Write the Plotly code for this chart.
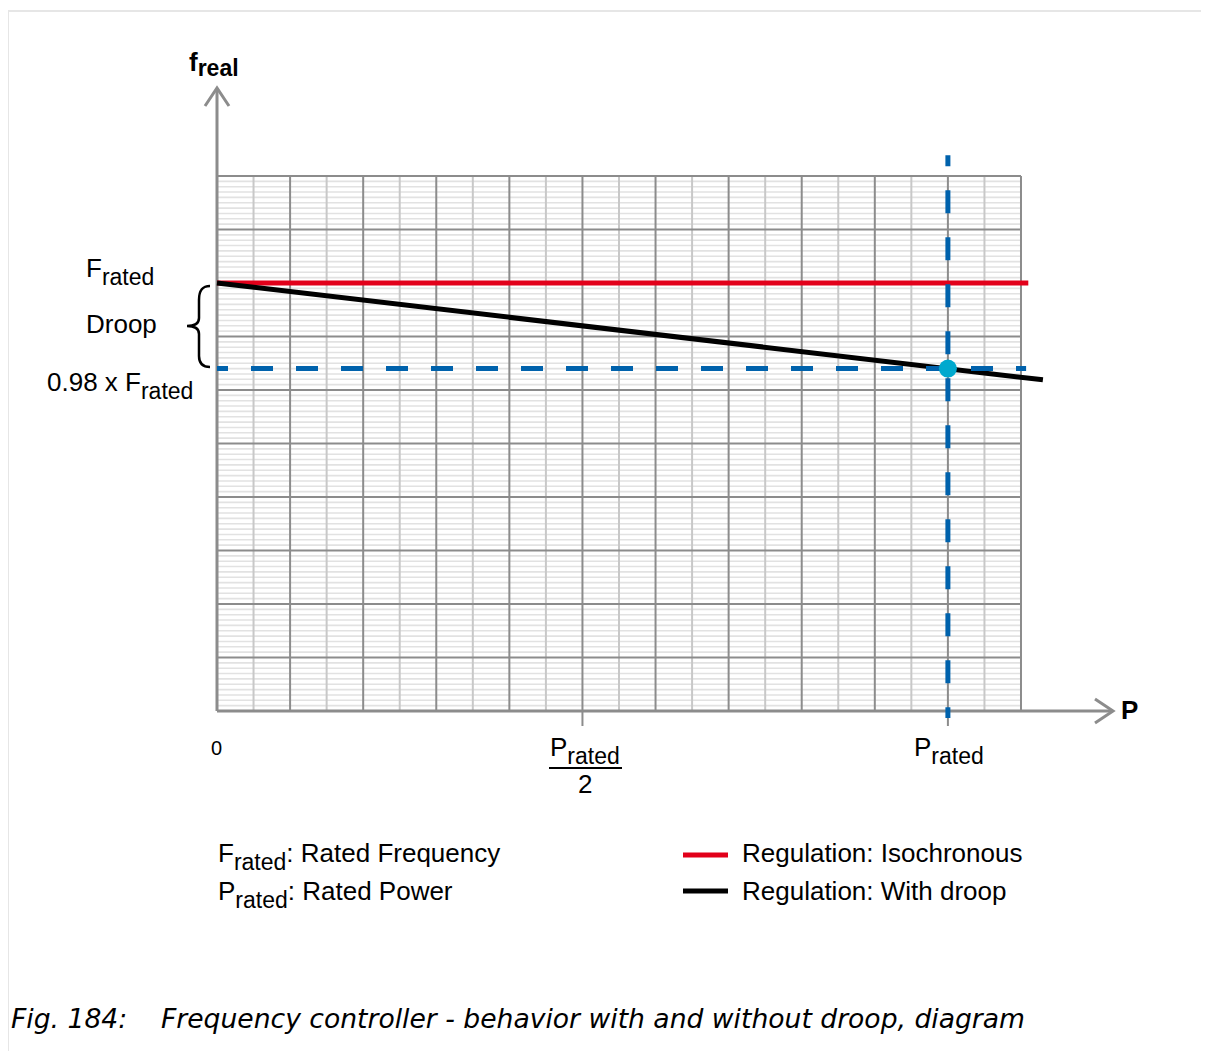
import plotly.graph_objects as go

# chart values, in grid units: P axis in tenths of P_rated, f axis with F_rated = 8
p_major = list(range(0, 12))
p_minor = [i + 0.5 for i in range(0, 11)]
f_major = list(range(0, 11))
f_minor = [i / 10 for i in range(0, 101) if i % 10 != 0]

iso_p = [0, 11.1]
iso_f = [8, 8]
droop_p = [0, 11.3]
droop_f = [8, 6.19]
op_p = [10]
op_f = [6.4]
dash_h_p = [0, 11.07]
dash_v_f = [10.39, -0.13]

SUB = "<sub><span style='font-size:23px;baseline-shift:-3px'>rated</span></sub>"
x_tick_vals = [0, 5, 10]
x_tick_text = ["0", "P" + SUB, "P" + SUB]

# page / pixel mapping (body keeps its default 8px margin)
W, H, OFF = 1193, 1043, 8
X0, XS = 217, 73.09
Y0, YS = 711, 53.5


def dx(X):
    return (X - X0) / XS


def dy(Y):
    return (Y0 - Y) / YS


def segs(pos, a, b, vertical):
    xs, ys = [], []
    for v in pos:
        if vertical:
            xs += [v, v, None]
            ys += [a, b, None]
        else:
            xs += [a, b, None]
            ys += [v, v, None]
    return xs, ys


GRID_DARK = "#8c8c8c"
BLUE = "#0062ac"
FONT = "Liberation Sans, Arial, sans-serif"

# dash phase as in the original drawing
dash_h = "11px,23px," + ",".join(["22px,23px"] * 18)
dash_v = "11px,24px," + ",".join(["23px,24px"] * 12)

fig = go.Figure()

# grid
x, y = segs(f_minor, 0, 11, False)
fig.add_trace(go.Scatter(x=x, y=y, mode="lines", line=dict(color="#e2e2e2", width=1.6), hoverinfo="skip"))
x, y = segs(p_minor, 0, 10, True)
fig.add_trace(go.Scatter(x=x, y=y, mode="lines", line=dict(color="#c8c8c8", width=2), hoverinfo="skip"))
x1, y1 = segs(f_major[1:], 0, 11, False)
x2, y2 = segs(p_major[1:], 0, 10, True)
fig.add_trace(go.Scatter(x=x1 + x2, y=y1 + y2, mode="lines", line=dict(color=GRID_DARK, width=2), hoverinfo="skip"))

# axes with open arrow heads
y_top = dy(88)
x_end = dx(1113)
fig.add_trace(go.Scatter(
    x=[0, 0, None, dx(205), 0, dx(229), None, 0, x_end, None, dx(1095), x_end, dx(1095)],
    y=[0, y_top, None, dy(106), y_top, dy(106), None, 0, 0, None, dy(699), 0, dy(723)],
    mode="lines", line=dict(color=GRID_DARK, width=3), hoverinfo="skip"))
x, y = segs(x_tick_vals[1:], 0, dy(726), True)
fig.add_trace(go.Scatter(x=x, y=y, mode="lines", line=dict(color=GRID_DARK, width=2), hoverinfo="skip"))

# regulation lines
fig.add_trace(go.Scatter(x=iso_p, y=iso_f, mode="lines", line=dict(color="#e2001a", width=5),
                         name="Regulation: Isochronous"))
fig.add_trace(go.Scatter(x=droop_p, y=droop_f, mode="lines", line=dict(color="black", width=5),
                         name="Regulation: With droop"))

# operating point guides
fig.add_trace(go.Scatter(x=dash_h_p, y=op_f * 2, mode="lines",
                         line=dict(color=BLUE, width=5, dash=dash_h), hoverinfo="skip"))
fig.add_trace(go.Scatter(x=op_p * 2, y=dash_v_f, mode="lines",
                         line=dict(color=BLUE, width=5, dash=dash_v), hoverinfo="skip"))
fig.add_trace(go.Scatter(x=op_p, y=op_f, mode="markers", marker=dict(color="#00a9ce", size=18)))

# legend samples
fig.add_trace(go.Scatter(x=[dx(683), dx(728)], y=[dy(855)] * 2, mode="lines",
                         line=dict(color="#e2001a", width=5), hoverinfo="skip"))
fig.add_trace(go.Scatter(x=[dx(683), dx(728)], y=[dy(891)] * 2, mode="lines",
                         line=dict(color="black", width=5), hoverinfo="skip"))

ann = []


def label(text, X, Y, xa="center", size=26, family=FONT):
    ann.append(dict(text=text, x=dx(X), y=dy(Y), xref="x", yref="y", showarrow=False,
                    xanchor=xa, yanchor="middle", font=dict(family=family, size=size, color="black")))


label("<b>f<sub><span style='font-size:23px'>real</span></sub></b>", 214, 64)
label("<b>P</b>", 1119, 710, xa="left")
label("F" + SUB, 156, 271, xa="right")
label("Droop", 121, 324)
label("0.98 x F" + SUB, 195, 385, xa="right")
label(x_tick_text[0], 216.5, 748, size=20)
label(x_tick_text[1], 585, 750)
label("2", 585, 784)
label(x_tick_text[2], 949, 750)
label("F" + SUB + ": Rated Frequency", 216, 856, xa="left")
label("P" + SUB + ": Rated Power", 216, 894, xa="left")
label("Regulation: Isochronous", 740, 853, xa="left")
label("Regulation: With droop", 740, 891, xa="left")
label("<i>Fig. 184:</i>", 9, 1018, xa="left", size=26.6, family="DejaVu Sans")
label("<i>Frequency controller - behavior with and without droop, diagram</i>", 159, 1018,
      xa="left", size=26.6, family="DejaVu Sans")

# brace next to the droop span
pts = [(210, 286), (201, 286), (199, 292), (199, 300), (199, 318), (199, 323), (195, 326), (187, 326),
       (195, 326), (199, 329), (199, 334), (199, 356), (199, 362), (201, 367), (210, 367)]
p = [f"{dx(a):.4f},{dy(b):.4f}" for a, b in pts]
brace = f"M{p[0]} C{p[1]} {p[2]} {p[3]} L{p[4]} C{p[5]} {p[6]} {p[7]} C{p[8]} {p[9]} {p[10]} L{p[11]} C{p[12]} {p[13]} {p[14]}"

shapes = [
    dict(type="path", path=brace, xref="x", yref="y", line=dict(color="black", width=2.5)),
    dict(type="line", x0=dx(549), x1=dx(622), y0=dy(768), y1=dy(768), xref="x", yref="y",
         line=dict(color="black", width=2)),
    dict(type="line", x0=dx(8), x1=dx(1209), y0=dy(11), y1=dy(11), xref="x", yref="y",
         line=dict(color="#e6e6e6", width=2)),
    dict(type="line", x0=dx(8), x1=dx(8), y0=dy(11), y1=dy(1059), xref="x", yref="y",
         line=dict(color="#e6e6e6", width=2)),
]

fig.update_layout(
    width=W, height=H, margin=dict(l=0, r=0, t=0, b=0),
    plot_bgcolor="white", paper_bgcolor="white", showlegend=False,
    annotations=ann, shapes=shapes,
    xaxis=dict(range=[dx(OFF), dx(OFF + W)], visible=False, fixedrange=True),
    yaxis=dict(range=[dy(OFF + H), dy(OFF)], visible=False, fixedrange=True),
)

fig.write_html("out.html")
